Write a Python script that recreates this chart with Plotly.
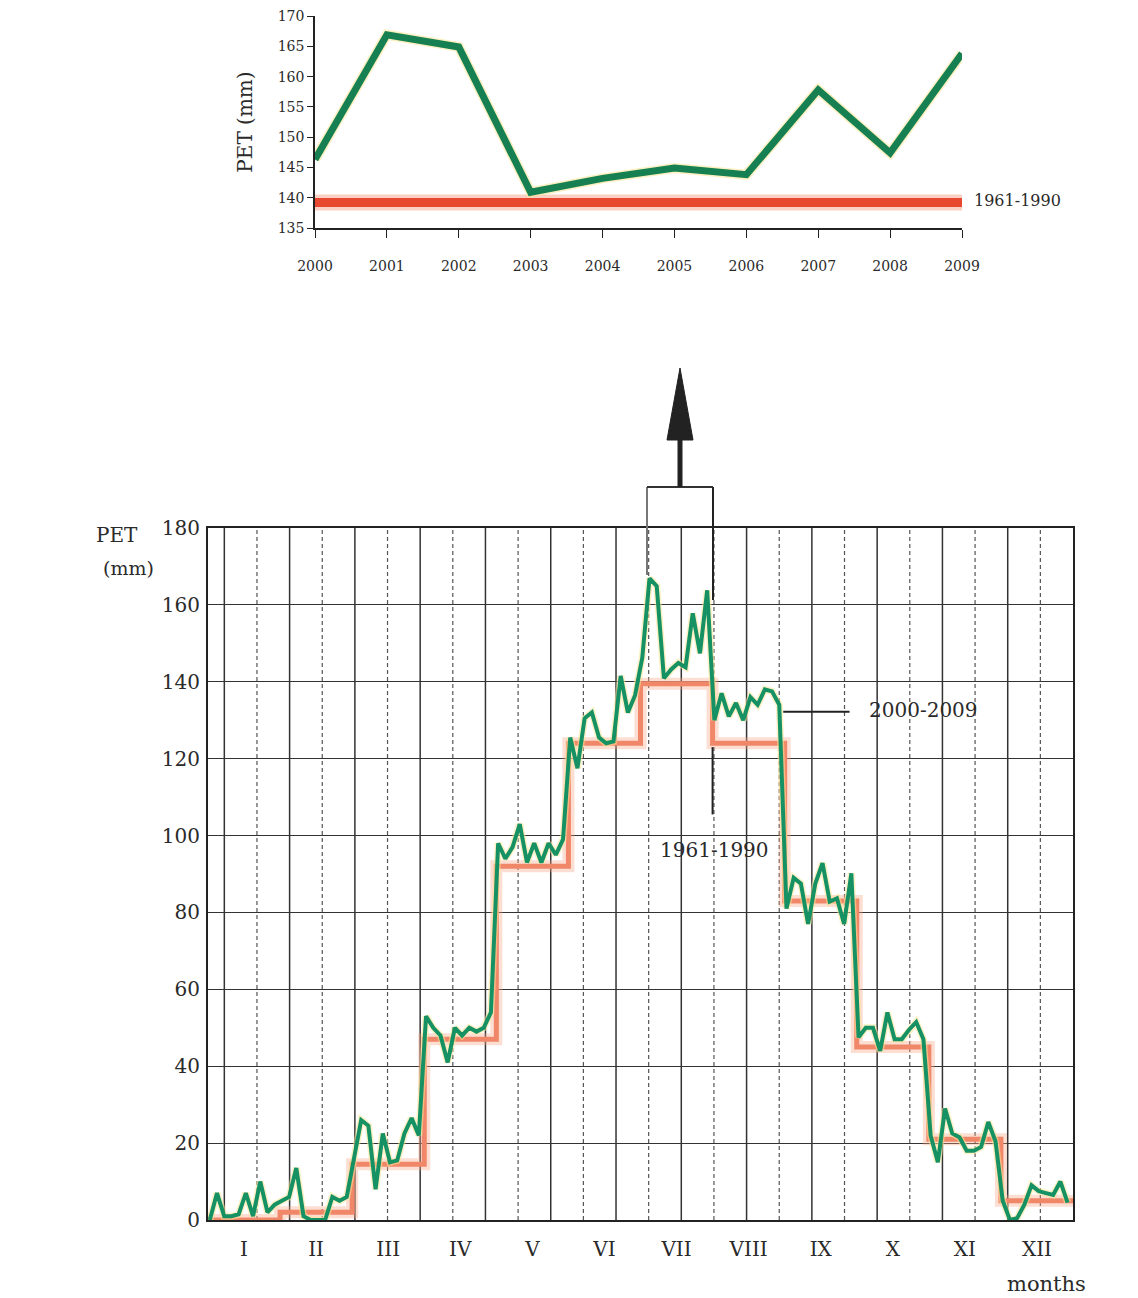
import plotly.graph_objects as go

# ---------------- data ----------------
years = [2000, 2001, 2002, 2003, 2004, 2005, 2006, 2007, 2008, 2009]
july_pet = [146.3, 166.9, 164.9, 140.9, 143.2, 144.9, 143.8, 157.8, 147.4, 163.8]
july_norm = 139.2
top_y_ticks = [135, 140, 145, 150, 155, 160, 165, 170]

month_labels = ["I", "II", "III", "IV", "V", "VI", "VII", "VIII", "IX", "X", "XI", "XII"]
norm_1961_1990 = [0, 2, 14.5, 47, 92, 124, 139.5, 124, 83, 45, 21, 5]

jan = [0, 7, 1, 1, 1.5, 7, 1, 10, 2, 4]
feb = [5, 6, 13.5, 1, 0, 0, 0, 6, 5, 6]
mar = [16, 26, 24.5, 8, 22.5, 15, 15.5, 22.5, 26.5, 22]
apr = [53, 50, 48, 41, 50, 48, 50, 49, 50, 54]
may = [98, 94, 97, 103, 93, 98, 93, 98, 95, 99]
jun = [125.5, 117.5, 130.5, 132, 125.5, 124, 124.5, 141.5, 132, 136.5]
jul = july_pet
aug = [130, 137, 131, 134.5, 130, 136, 134, 138, 137.5, 134]
sep = [81, 89, 87.5, 77, 87.5, 92.8, 82.8, 83.7, 77, 90.2]
octo = [47.5, 50, 50, 44, 54, 47, 47, 49.5, 51.5, 47]
nov = [22, 15, 29, 22.5, 21.5, 18, 18, 19, 25.5, 20.5]
dec = [5, 0, 0.5, 4, 9, 7.5, 7, 6.5, 10, 4.5]
bottom_y_ticks = [0, 20, 40, 60, 80, 100, 120, 140, 160, 180]

# ---------------- build ----------------
W, H = 1138, 1298
OFF = 8  # page body margin
def px(x):
    return (x - OFF) / W
def py(y):
    return 1 - (y - OFF) / H

monthly = [jan, feb, mar, apr, may, jun, jul, aug, sep, octo, nov, dec]
gx, gy = [], []
for m, vals in enumerate(monthly):
    for i, v in enumerate(vals):
        gx.append(m + (i + 0.25) / 10)
        gy.append(v)

step_x = list(range(13))
step_y = norm_1961_1990 + [norm_1961_1990[-1]]

SERIF = "DejaVu Serif"
TXT = "#2a2a2a"
GREEN_TOP = "rgb(22,128,82)"
GREEN = "rgb(22,145,100)"
ORANGE = "rgb(240,135,105)"
RED = "rgb(232,72,48)"

fig = go.Figure()

# top chart
fig.add_trace(go.Scatter(x=[years[0], years[-1]], y=[july_norm, july_norm], mode="lines",
                         line=dict(color="rgba(240,120,90,0.35)", width=16),
                         xaxis="x", yaxis="y", hoverinfo="skip", showlegend=False))
fig.add_trace(go.Scatter(x=[years[0], years[-1]], y=[july_norm, july_norm], mode="lines",
                         line=dict(color=RED, width=9),
                         xaxis="x", yaxis="y", showlegend=False))
fig.add_trace(go.Scatter(x=years, y=july_pet, mode="lines",
                         line=dict(color="rgba(250,230,150,0.6)", width=10),
                         xaxis="x", yaxis="y", hoverinfo="skip", showlegend=False))
fig.add_trace(go.Scatter(x=years, y=july_pet, mode="lines",
                         line=dict(color=GREEN_TOP, width=7),
                         xaxis="x", yaxis="y", showlegend=False))

# bottom chart
fig.add_trace(go.Scatter(x=step_x, y=step_y, mode="lines", line_shape="hv",
                         line=dict(color="rgba(245,160,130,0.35)", width=12),
                         xaxis="x2", yaxis="y2", hoverinfo="skip", showlegend=False))
fig.add_trace(go.Scatter(x=step_x, y=step_y, mode="lines", line_shape="hv",
                         line=dict(color=ORANGE, width=5),
                         xaxis="x2", yaxis="y2", showlegend=False))
fig.add_trace(go.Scatter(x=gx, y=gy, mode="lines",
                         line=dict(color="rgba(250,230,150,0.55)", width=7),
                         xaxis="x2", yaxis="y2", hoverinfo="skip", showlegend=False))
fig.add_trace(go.Scatter(x=gx, y=gy, mode="lines",
                         line=dict(color=GREEN, width=4),
                         xaxis="x2", yaxis="y2", showlegend=False))

shapes = []
# vertical grid lines in bottom chart (alternating solid/dashed)
spacing = 12 / 26.5
for k in range(26):
    xv = spacing / 2 + k * spacing
    shapes.append(dict(type="line", xref="x2", yref="y2", x0=xv, x1=xv, y0=0, y1=180,
                       line=dict(color="#333" if k % 2 == 0 else "#555",
                                 width=1.5 if k % 2 == 0 else 1.2,
                                 dash="solid" if k % 2 == 0 else "4px,3px"),
                       layer="below"))

# pointer lines
shapes.append(dict(type="line", xref="x2", yref="y2", x0=7.98, x1=8.9, y0=132.2, y1=132.2,
                   line=dict(color="#222", width=2)))
shapes.append(dict(type="line", xref="x2", yref="y2", x0=7.0, x1=7.0, y0=123, y1=105.5,
                   line=dict(color="#222", width=2)))

# bracket and arrow (paper coords)
shapes.append(dict(type="line", xref="paper", yref="paper", x0=px(647), x1=px(647), y0=py(487), y1=py(575),
                   line=dict(color="#777", width=2)))
shapes.append(dict(type="line", xref="paper", yref="paper", x0=px(713), x1=px(713), y0=py(487), y1=py(600),
                   line=dict(color="#222", width=2)))
shapes.append(dict(type="line", xref="paper", yref="paper", x0=px(647), x1=px(713), y0=py(487), y1=py(487),
                   line=dict(color="#333", width=2)))
shapes.append(dict(type="line", xref="paper", yref="paper", x0=px(680), x1=px(680), y0=py(487), y1=py(430),
                   line=dict(color="#222", width=5)))
shapes.append(dict(type="path", xref="paper", yref="paper",
                   path=f"M {px(667)} {py(440)} L {px(680)} {py(368)} L {px(693)} {py(440)} Z",
                   fillcolor="#222", line=dict(color="#222", width=1)))

fig.update_layout(
    width=W, height=H,
    margin=dict(l=0, r=0, t=0, b=0, autoexpand=False),
    paper_bgcolor="white", plot_bgcolor="white",
    font=dict(family=SERIF, color=TXT),
    showlegend=False,
    shapes=shapes,
    xaxis=dict(domain=[px(315), px(962)], range=[2000, 2009], tickmode="array", tickvals=years,
               ticktext=[str(y) for y in years], showgrid=False, zeroline=False,
               showline=True, linecolor="#222", linewidth=1.5, ticks="outside", ticklen=8,
               tickcolor="#222", tickfont=dict(size=14, family=SERIF, color=TXT),
               ticklabelstandoff=16, anchor="y", automargin=False, ticklabeloverflow="allow"),
    yaxis=dict(domain=[py(228), py(16)], range=[135, 170.01], tickmode="array",
               tickvals=top_y_ticks, ticktext=[str(t) for t in top_y_ticks],
               showgrid=False, zeroline=False, showline=True, linecolor="#222", linewidth=1.5,
               ticks="outside", ticklen=6, tickcolor="#222",
               tickfont=dict(size=14, family=SERIF, color=TXT), anchor="x", automargin=False,
               ticklabeloverflow="allow",
               title=dict(text="PET (mm)", font=dict(size=20, family=SERIF, color=TXT), standoff=20)),
    xaxis2=dict(domain=[px(208), px(1073)], range=[0, 12], tickmode="array",
                tickvals=[m + 0.5 for m in range(12)], ticktext=month_labels,
                showgrid=False, zeroline=False, showline=True, mirror=True, linecolor="#222",
                linewidth=2, ticks="", tickfont=dict(size=20, family=SERIF, color=TXT),
                ticklabelstandoff=10, anchor="y2", automargin=False, ticklabeloverflow="allow"),
    yaxis2=dict(domain=[py(1220), py(528)], range=[0, 180], tickvals=bottom_y_ticks,
                showgrid=True, gridcolor="#333", gridwidth=1.4, zeroline=False,
                showline=True, mirror=True, linecolor="#222", linewidth=2, ticks="",
                tickfont=dict(size=20, family=SERIF, color=TXT), ticklabelstandoff=2,
                anchor="x2", automargin=False, ticklabeloverflow="allow"),
)

annotations = [
    dict(text="1961-1990", xref="paper", yref="paper", x=px(972), y=py(200), xanchor="left",
         yanchor="middle", showarrow=False, font=dict(size=16, family=SERIF, color=TXT)),
    dict(text="2000-2009", xref="paper", yref="paper", x=px(867), y=py(710), xanchor="left",
         yanchor="middle", showarrow=False, font=dict(size=20, family=SERIF, color=TXT)),
    dict(text="1961-1990", xref="paper", yref="paper", x=px(714), y=py(850), xanchor="center",
         yanchor="middle", showarrow=False, font=dict(size=20, family=SERIF, color=TXT)),
    dict(text="PET", xref="paper", yref="paper", x=px(140), y=py(535), xanchor="right",
         yanchor="middle", showarrow=False, font=dict(size=20, family=SERIF, color=TXT)),
    dict(text="(mm)", xref="paper", yref="paper", x=px(128), y=py(568), xanchor="center",
         yanchor="middle", showarrow=False, font=dict(size=19, family=SERIF, color=TXT)),
    dict(text="months", xref="paper", yref="paper", x=px(1088), y=py(1284), xanchor="right",
         yanchor="middle", showarrow=False, font=dict(size=21, family=SERIF, color=TXT)),
]
fig.update_layout(annotations=annotations)

fig.write_html("out.html")
